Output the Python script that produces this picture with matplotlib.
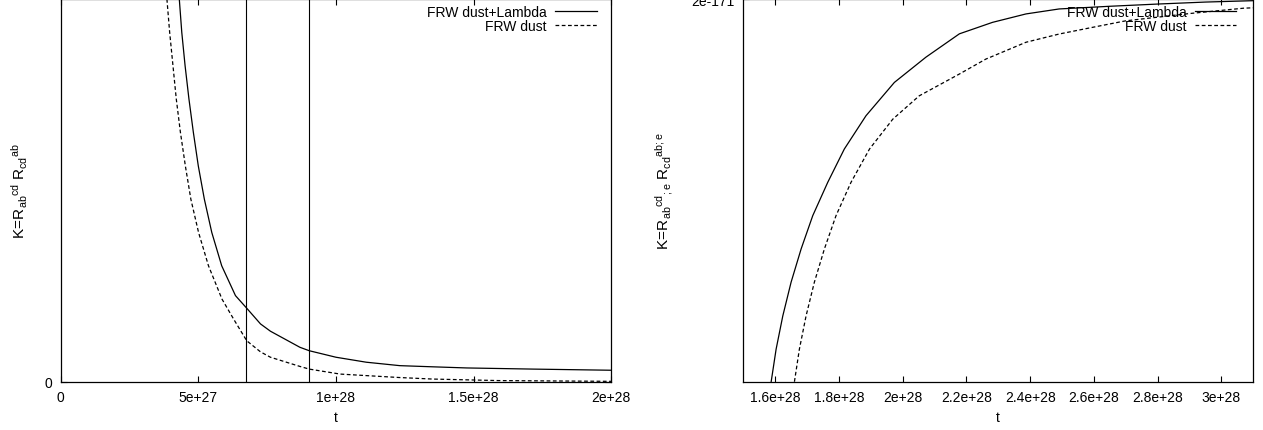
import matplotlib
matplotlib.use("Agg")
import matplotlib.pyplot as plt
from matplotlib.ticker import FuncFormatter, FixedLocator
import numpy as np

plt.rcParams["font.family"] = ["Liberation Sans", "DejaVu Sans"]
plt.rcParams["font.size"] = 10
plt.rcParams["mathtext.fontset"] = "custom"
plt.rcParams["mathtext.rm"] = "Liberation Sans"
plt.rcParams["mathtext.it"] = "Liberation Sans:italic"

# -----------------------------
# Data
# -----------------------------
# left panel: K = R_ab^cd R_cd^ab (arbitrary units, top of axis = 1)
t_left_lam = [4.31e27, 4.40e27, 4.52e27, 4.66e27, 4.82e27, 5.00e27, 5.22e27, 5.49e27,
              5.85e27, 6.35e27, 6.76e27, 7.26e27, 7.62e27, 8.69e27, 9.03e27, 1.0e28,
              1.11e28, 1.232e28, 1.35e28, 1.475e28, 1.716e28, 2.0e28]
K_left_lam = [1.0, 0.913, 0.826, 0.739, 0.652, 0.564, 0.477, 0.390,
              0.303, 0.225, 0.192, 0.151, 0.132, 0.090, 0.081, 0.064,
              0.051, 0.042, 0.039, 0.036, 0.033, 0.030]

t_left_dust = [3.86e27, 3.96e27, 4.08e27, 4.20e27, 4.35e27, 4.53e27, 4.73e27, 5.01e27,
               5.37e27, 5.86e27, 6.28e27, 6.76e27, 7.26e27, 7.62e27, 8.69e27, 9.03e27,
               1.015e28, 1.11e28, 1.23e28, 1.35e28, 1.59e28, 2.0e28]
K_left_dust = [1.0, 0.913, 0.826, 0.739, 0.652, 0.564, 0.477, 0.390,
               0.303, 0.216, 0.164, 0.107, 0.078, 0.064, 0.040, 0.033,
               0.020, 0.016, 0.011, 0.007, 0.003, 0.001]

t_marks = [6.74e27, 9.03e27]

# right panel: K = R_ab^cd_;e R_cd^ab;e  (units of 1e-171)
t_right_lam = [1.5875e28, 1.603e28, 1.624e28, 1.650e28, 1.6815e28, 1.718e28, 1.765e28,
               1.817e28, 1.885e28, 1.974e28, 2.073e28, 2.178e28, 2.282e28, 2.387e28,
               2.491e28, 2.65e28, 2.805e28, 2.95e28, 3.1e28]
K_right_lam = [1.9000, 1.9085, 1.9172, 1.9260, 1.9347, 1.9434, 1.9521,
               1.9608, 1.9695, 1.9782, 1.9848, 1.9909, 1.9939, 1.9961,
               1.9974, 1.9981, 1.9987, 1.9992, 1.99956]

t_right_dust = [1.6605e28, 1.676e28, 1.697e28, 1.723e28, 1.7545e28, 1.791e28, 1.838e28,
                1.896e28, 1.969e28, 2.052e28, 2.178e28, 2.261e28, 2.387e28, 2.491e28,
                2.596e28, 2.700e28, 2.9e28, 3.07e28, 3.1e28]
K_right_dust = [1.9000, 1.9085, 1.9172, 1.9260, 1.9347, 1.9434, 1.9521,
                1.9608, 1.9686, 1.9747, 1.9804, 1.9843, 1.9887, 1.99085,
                1.9926, 1.9943, 1.9962, 1.9976, 1.9977]

K_UNIT = 1e-171

left_xticks = [0, 5e27, 1e28, 1.5e28, 2e28]
right_xticks = [1.6e28, 1.8e28, 2e28, 2.2e28, 2.4e28, 2.6e28, 2.8e28, 3e28]

gfmt = FuncFormatter(lambda v, p: "%g" % v)

# -----------------------------
# Figure
# -----------------------------
fig = plt.figure(figsize=(12.63, 4.31), dpi=100)
ax1 = fig.add_axes([0.048, 0.112, 0.436, 0.888])
ax2 = fig.add_axes([0.5885, 0.112, 0.4038, 0.888])

dash = (3, 2)


def style_axes(ax):
    for s in ax.spines.values():
        s.set_linewidth(0.9)
    ax.tick_params(direction="in", length=4, width=0.8, top=True, right=True,
                   labelsize=10, pad=6)
    ax.xaxis.set_major_formatter(gfmt)
    ax.yaxis.set_major_formatter(gfmt)


def add_legend(ax, xanchor):
    ax.legend(loc="upper right", bbox_to_anchor=(xanchor, 1.0), frameon=False,
              markerfirst=False, handlelength=3.0, handletextpad=0.6, labelspacing=0.0,
              borderaxespad=0.1, borderpad=0.3, fontsize=10)


# --- left ---
ax1.plot(t_left_lam, K_left_lam, color="black", lw=0.9, label="FRW dust+Lambda")
ax1.plot(t_left_dust, K_left_dust, color="black", lw=0.9, dashes=dash, label="FRW dust")
for tm in t_marks:
    ax1.axvline(tm, color="black", lw=0.8)
ax1.set_xlim(0, 2e28)
ax1.set_ylim(0, 1.0)
ax1.xaxis.set_major_locator(FixedLocator(left_xticks))
ax1.yaxis.set_major_locator(FixedLocator([0]))
style_axes(ax1)
ax1.set_xlabel("t", labelpad=4)
ax1.set_ylabel(r"$\mathrm{K}\!=\!\mathrm{R_{ab}{}^{cd}\ R_{cd}{}^{ab}}$", fontsize=11)
ax1.yaxis.set_label_coords(-0.056, 0.5)
add_legend(ax1, 0.984)

# --- right ---
ax2.plot(t_right_lam, np.array(K_right_lam) * K_UNIT, color="black", lw=0.9,
         label="FRW dust+Lambda")
ax2.plot(t_right_dust, np.array(K_right_dust) * K_UNIT, color="black", lw=0.9,
         dashes=dash, label="FRW dust")
ax2.set_xlim(1.5e28, 3.1e28)
ax2.set_ylim(1.9 * K_UNIT, 2.0 * K_UNIT)
ax2.xaxis.set_major_locator(FixedLocator(right_xticks))
ax2.yaxis.set_major_locator(FixedLocator([2e-171]))
style_axes(ax2)
ax2.set_xlabel("t", labelpad=4)
ax2.set_ylabel(r"$\mathrm{K}\!=\!\mathrm{R_{ab}{}^{cd}{}_{;e}\ R_{cd}{}^{ab;e}}$",
               fontsize=11)
ax2.yaxis.set_label_coords(-0.134, 0.5)
add_legend(ax2, 0.978)

fig.savefig("out.png", dpi=100)
